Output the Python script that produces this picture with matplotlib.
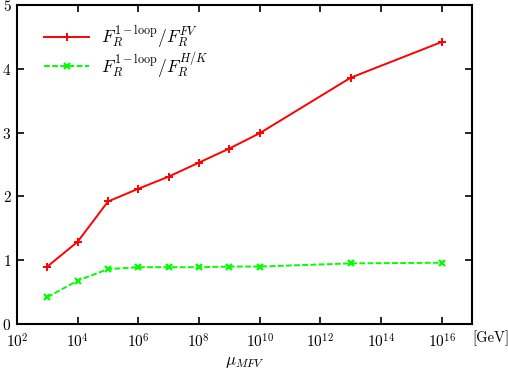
import numpy as np
import matplotlib
matplotlib.use("Agg")
import matplotlib.pyplot as plt

plt.rcParams['mathtext.fontset'] = 'cm'
plt.rcParams['font.family'] = 'serif'
plt.rcParams['font.serif'] = ['cmr10', 'DejaVu Serif']
plt.rcParams['axes.formatter.use_mathtext'] = True

# scale points in GeV
mu = [1e3, 1e4, 1e5, 1e6, 1e7, 1e8, 1e9, 1e10, 1e13, 1e16]
ratio_fv = [0.90, 1.29, 1.92, 2.12, 2.31, 2.53, 2.75, 2.99, 3.86, 4.42]
ratio_hk = [0.42, 0.68, 0.86, 0.89, 0.89, 0.89, 0.90, 0.90, 0.95, 0.96]

fig = plt.figure(figsize=(5.08, 3.73), dpi=100)
ax = fig.add_axes([0.0335, 0.1314, 0.8955, 0.8552])

ax.plot(mu, ratio_fv, color='#ff0000', lw=1.4, marker='+', ms=6, mew=1.4,
        label=r'$F_R^{1-\mathrm{loop}}/F_R^{FV}$')
ax.plot(mu, ratio_hk, color='#00ff00', lw=1.4, ls=(0, (3, 1.2)), marker='x', ms=4, mew=1.6,
        label=r'$F_R^{1-\mathrm{loop}}/F_R^{H/K}$')

ax.set_xscale('log')
ax.set_xlim(1e2, 1e17)
ax.set_ylim(0, 5)
ax.set_xticks([10.0**k for k in range(2, 17, 2)])
ax.xaxis.set_minor_locator(matplotlib.ticker.NullLocator())
ax.set_yticks(range(6))
ax.tick_params(direction='in', top=True, right=True, length=5, width=1.2,
               labelsize=11, pad=6)
ax.tick_params(axis='y', pad=4)
for s in ax.spines.values():
    s.set_linewidth(1.5)

ax.set_xlabel(r'$\mu_{MFV}$', fontsize=12, labelpad=3)
fig.text(0.929, 0.094, '[GeV]', fontsize=10.5, va='center', ha='left')

ax.legend(loc='upper left', frameon=False, fontsize=12.5, handlelength=2.6,
          handletextpad=0.7, bbox_to_anchor=(0.025, 0.99), labelspacing=0.0)

fig.savefig('out.png', dpi=100)
